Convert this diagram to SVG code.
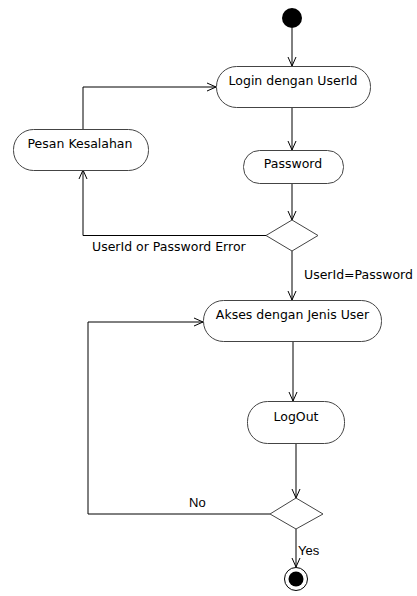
<svg xmlns="http://www.w3.org/2000/svg" width="417" height="596" viewBox="0 0 417 596">
  <style>
    .act { fill: #ffffff; stroke: #444444; stroke-width: 1; }
    .dec { fill: #ffffff; stroke: #444444; stroke-width: 1; }
    .lbl { font-family: "DejaVu Sans", Verdana, sans-serif; font-size: 12.5px; fill: #000000; }
    .guard { font-family: "DejaVu Sans", Verdana, sans-serif; font-size: 12.5px; fill: #000000; }
    .guard2 { font-family: "Liberation Sans", Arial, sans-serif; font-size: 13px; fill: #000000; }
    .flow { fill: none; stroke: #000000; stroke-width: 1; marker-end: url(#open); }
  </style>
  <defs>
    <marker id="open" viewBox="0 0 10 10" refX="10" refY="5" markerWidth="10" markerHeight="10" markerUnits="userSpaceOnUse" orient="auto">
      <path d="M1,1 L10,5 L1,9" fill="none" stroke="#000000" stroke-width="1"/>
    </marker>
  </defs>

  <rect width="417" height="596" fill="#ffffff"/>

  <!-- control flows -->
  <g id="connectors">
    <path class="flow" d="M292,28 L292,66"/>
    <path class="flow" d="M292,108 L292,150"/>
    <path class="flow" d="M292,184 L292,220"/>
    <path class="flow" d="M266,235.5 L83,235.5 L83,170"/>
    <path class="flow" d="M83,130 L83,87 L216,87"/>
    <path class="flow" d="M292,251 L292,300"/>
    <path class="flow" d="M293,342 L293,401"/>
    <path class="flow" d="M296,444 L296,498"/>
    <path class="flow" d="M270,514 L88,514 L88,322 L203,322"/>
    <path class="flow" d="M296,529 L296,567"/>
    <text class="guard" x="92" y="250.5">UserId or Password Error</text>
    <text class="guard" x="304" y="278.5">UserId=Password</text>
    <text class="guard2" x="189" y="506.5">No</text>
    <text class="guard2" x="298" y="555">Yes</text>
  </g>

  <g id="start">
    <circle cx="292" cy="18" r="10" fill="#000000"/>
  </g>

  <g id="login">
    <rect class="act" x="216.5" y="66.5" width="154" height="41" rx="20" ry="20"/>
    <text class="lbl" x="293" y="84.5" text-anchor="middle">Login dengan UserId</text>
  </g>

  <g id="pesan-kesalahan">
    <rect class="act" x="13.5" y="129.5" width="135" height="41" rx="20" ry="20"/>
    <text class="lbl" x="80" y="147.5" text-anchor="middle">Pesan Kesalahan</text>
  </g>

  <g id="password">
    <rect class="act" x="243.5" y="150.5" width="100" height="33" rx="16" ry="16"/>
    <text class="lbl" x="293" y="167.5" text-anchor="middle">Password</text>
  </g>

  <g id="cek-login">
    <polygon class="dec" points="292,220 318,235.5 292,251 266,235.5"/>
  </g>

  <g id="akses">
    <rect class="act" x="203.5" y="300.5" width="178" height="41" rx="20" ry="20"/>
    <text class="lbl" x="292.5" y="318.5" text-anchor="middle">Akses dengan Jenis User</text>
  </g>

  <g id="logout">
    <rect class="act" x="247.5" y="401.5" width="97" height="42" rx="20" ry="20"/>
    <text class="lbl" x="296" y="420.5" text-anchor="middle">LogOut</text>
  </g>

  <g id="cek-logout">
    <polygon class="dec" points="296,498 323,514 296,529 270,514"/>
  </g>

  <g id="end">
    <circle cx="296" cy="579" r="11.5" fill="#ffffff" stroke="#000000" stroke-width="1"/>
    <circle cx="296" cy="579" r="7.5" fill="#000000"/>
  </g>
</svg>
